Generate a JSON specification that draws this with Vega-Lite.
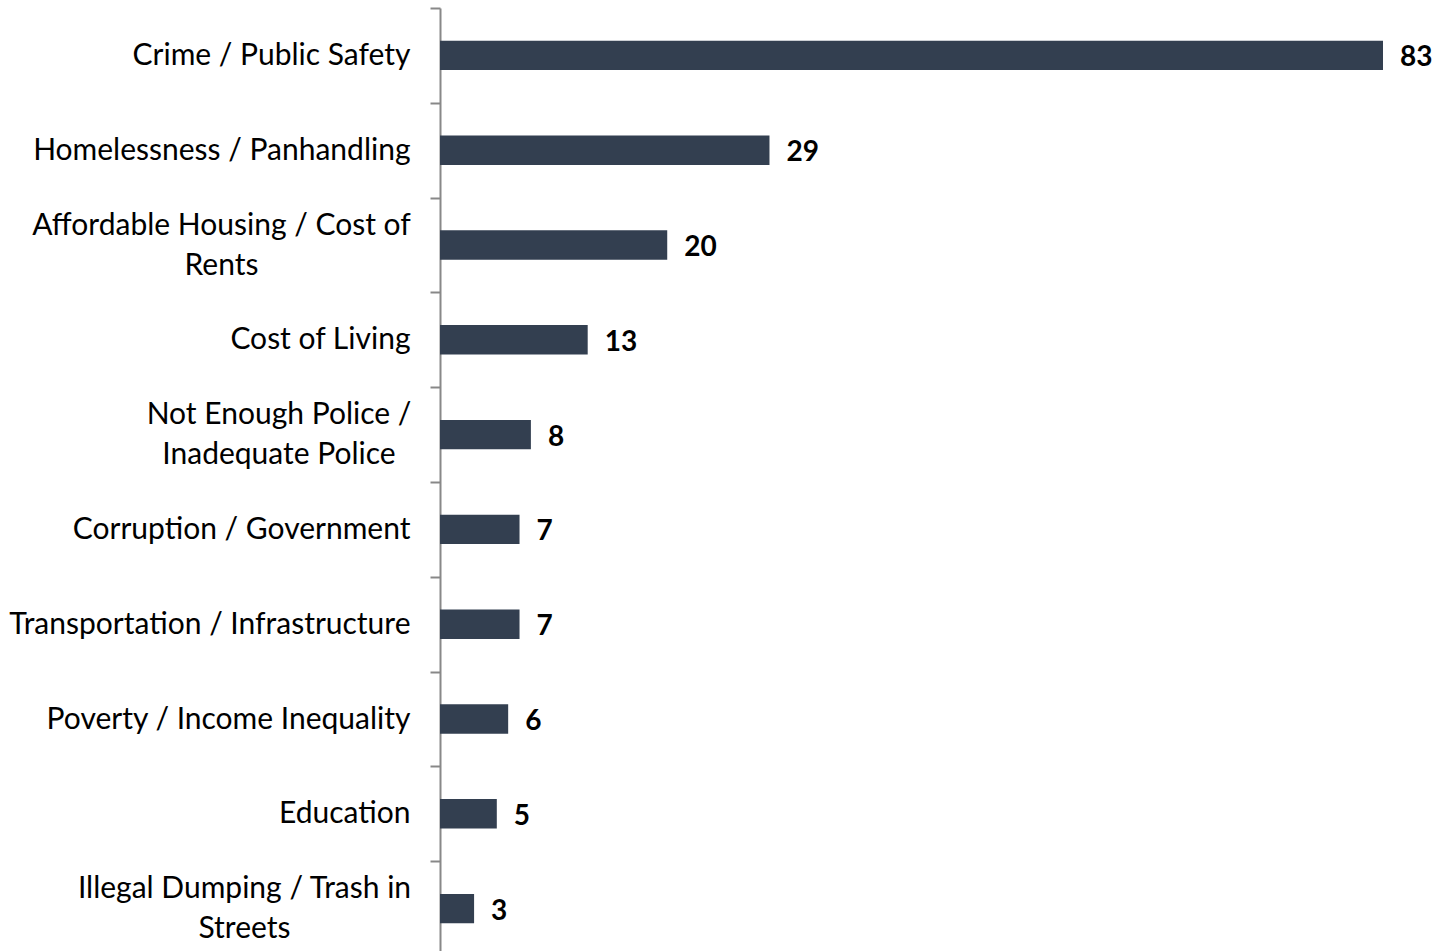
{
  "$schema": "https://vega.github.io/schema/vega-lite/v6.json",
  "autosize": "none",
  "padding": {"left": 440, "top": 8, "right": 54, "bottom": 0},
  "width": 943,
  "height": 948,
  "background": "white",
  "config": {"view": {"stroke": null}},
  "data": {
    "values": [
      {"issue": "Crime / Public Safety", "value": 83},
      {"issue": "Homelessness / Panhandling", "value": 29},
      {"issue": "Affordable Housing / Cost of|Rents", "value": 20},
      {"issue": "Cost of Living", "value": 13},
      {"issue": "Not Enough Police /|Inadequate Police", "value": 8},
      {"issue": "Corruption / Government", "value": 7},
      {"issue": "Transportation / Infrastructure", "value": 7},
      {"issue": "Poverty / Income Inequality", "value": 6},
      {"issue": "Education", "value": 5},
      {"issue": "Illegal Dumping / Trash in|Streets", "value": 3}
    ]
  },
  "encoding": {
    "y": {
      "field": "issue",
      "type": "nominal",
      "sort": null,
      "scale": {"paddingInner": 0.69, "paddingOuter": 0.345},
      "axis": {
        "title": null,
        "tickOffset": -47.4,
        "labelOffset": {"expr": "indexof(datum.value, '|') >= 0 ? 27.4 : 47.4"},
        "labelAlign": {"expr": "indexof(datum.value, '|') >= 0 ? 'center' : 'right'"},
        "labelPadding": {"expr": "datum.value == 'Affordable Housing / Cost of|Rents' ? 209 : datum.value == 'Not Enough Police /|Inadequate Police' ? 151.5 : datum.value == 'Illegal Dumping / Trash in|Streets' ? 186 : 20"},
        "domainColor": "#888888",
        "domainWidth": 2,
        "tickColor": "#888888",
        "tickWidth": 2,
        "tickSize": 10,
        "labelFont": "Lato",
        "labelFontSize": 30,
        "labelColor": "#000000",
        "labelLineHeight": 40,
        "labelLimit": 500,
        "labelExpr": "split(datum.label, '|')"
      }
    },
    "x": {
      "field": "value",
      "type": "quantitative",
      "scale": {"domain": [0, 83], "nice": false},
      "axis": null
    }
  },
  "layer": [
    {"mark": {"type": "bar", "color": "#333F50"}},
    {
      "mark": {"type": "text", "align": "left", "baseline": "middle", "dx": 17, "dy": 3, "font": "Lato", "fontSize": 28, "fontWeight": "bold", "color": "#000000"},
      "encoding": {"text": {"field": "value", "type": "quantitative"}}
    }
  ]
}
